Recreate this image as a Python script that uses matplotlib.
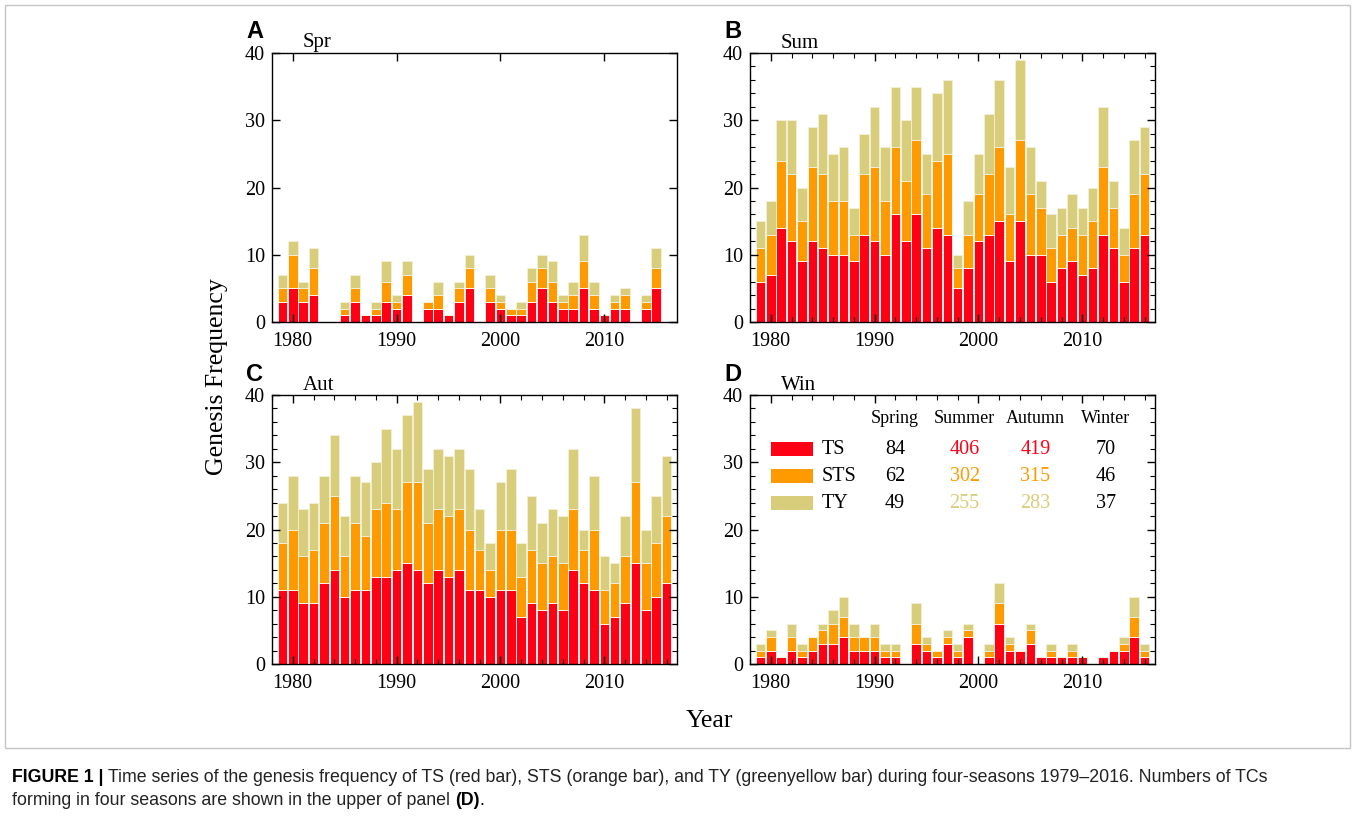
#!/usr/bin/env python3
# -*- coding: utf-8 -*-
"""
Four-season TC genesis frequency (TS / STS / TY), 1979-2016.
"""

import matplotlib
matplotlib.use("Agg")
import matplotlib.pyplot as plt
from matplotlib.patches import Rectangle
from matplotlib.ticker import MultipleLocator

# years on the x axis
years = list(range(1979, 2017))

# spring
ts_spr = [3, 5, 3, 4, 0, 0, 1, 3, 1, 1, 3, 2, 4, 0, 2, 2, 1, 3, 5, 0,
          3, 2, 1, 1, 3, 5, 3, 2, 2, 5, 2, 1, 2, 2, 0, 2, 5, 0]
sts_spr = [2, 5, 2, 4, 0, 0, 1, 2, 0, 1, 3, 1, 3, 0, 1, 2, 0, 2, 3, 0,
           2, 1, 1, 1, 3, 3, 3, 1, 2, 4, 2, 0, 1, 2, 0, 1, 3, 0]
ty_spr = [2, 2, 1, 3, 0, 0, 1, 2, 0, 1, 3, 1, 2, 0, 0, 2, 0, 1, 2, 0,
          2, 1, 0, 1, 2, 2, 3, 1, 2, 4, 2, 0, 1, 1, 0, 1, 3, 0]

# summer
ts_sum = [6, 7, 14, 12, 9, 12, 11, 10, 10, 9, 13, 12, 10, 16, 12, 16, 11, 14, 13, 5,
          8, 12, 13, 15, 9, 15, 10, 10, 6, 8, 9, 7, 8, 13, 11, 6, 11, 13]
sts_sum = [5, 6, 10, 10, 6, 11, 11, 8, 8, 4, 9, 11, 8, 10, 9, 11, 8, 10, 12, 3,
           5, 7, 9, 11, 7, 12, 9, 7, 5, 5, 5, 6, 7, 10, 6, 4, 8, 9]
ty_sum = [4, 5, 6, 8, 5, 6, 9, 7, 8, 4, 6, 9, 8, 9, 9, 8, 6, 10, 11, 2,
          5, 6, 9, 10, 7, 12, 7, 4, 5, 4, 5, 4, 5, 9, 4, 4, 8, 7]

# autumn
ts_aut = [11, 11, 9, 9, 12, 14, 10, 11, 11, 13, 13, 14, 15, 14, 12, 14, 13, 14, 11, 11,
          10, 11, 11, 7, 9, 8, 9, 8, 14, 12, 11, 6, 7, 9, 15, 8, 10, 12]
sts_aut = [7, 9, 7, 8, 9, 11, 6, 10, 8, 10, 11, 9, 12, 13, 9, 9, 9, 9, 9, 6,
           4, 9, 9, 6, 8, 7, 7, 7, 9, 5, 9, 5, 5, 7, 12, 7, 8, 10]
ty_aut = [6, 8, 7, 7, 7, 9, 6, 7, 8, 7, 11, 9, 10, 12, 8, 9, 9, 9, 9, 6,
          4, 7, 9, 5, 8, 6, 7, 7, 9, 3, 8, 5, 3, 6, 11, 5, 7, 9]

# winter
ts_win = [1, 2, 1, 2, 1, 2, 3, 3, 4, 2, 2, 2, 1, 1, 0, 3, 2, 1, 3, 1,
          4, 0, 1, 6, 2, 2, 3, 1, 1, 1, 1, 1, 0, 1, 2, 2, 4, 1]
sts_win = [1, 2, 0, 2, 1, 2, 2, 3, 3, 2, 2, 2, 1, 1, 0, 3, 1, 1, 1, 1,
           1, 0, 1, 3, 1, 0, 2, 0, 1, 0, 1, 0, 0, 0, 0, 1, 3, 1]
ty_win = [1, 1, 0, 2, 1, 0, 1, 2, 3, 2, 0, 2, 1, 1, 0, 3, 1, 0, 1, 1,
          1, 0, 1, 3, 1, 0, 1, 0, 1, 0, 1, 0, 0, 0, 0, 1, 3, 1]

# totals printed in panel D
season_names = ["Spring", "Summer", "Autumn", "Winter"]
ts_totals = [84, 406, 419, 70]
sts_totals = [62, 302, 315, 46]
ty_totals = [49, 255, 283, 37]

# colours
red = "#FF0014"
orange = "#FF9A00"
tan = "#D8CD7A"

W, H = 1356, 822


def fx(px):
    """pixel x -> figure fraction"""
    return px / W


def fy(py):
    """pixel y (from top) -> figure fraction"""
    return 1 - py / H


def stacked_bars(ax, ts, sts, ty):
    """draw one panel of stacked bars"""
    bottom2 = [a + b for a, b in zip(ts, sts)]
    ax.bar(years, ts, width=0.92, color=red, edgecolor="white", linewidth=0.6)
    ax.bar(years, sts, bottom=ts, width=0.92, color=orange,
           edgecolor="white", linewidth=0.6)
    ax.bar(years, ty, bottom=bottom2, width=0.92, color=tan,
           edgecolor="#F4F0D8", linewidth=0.6)


def style_axes(ax, minor=True):
    ax.set_xlim(1978, 2017)
    ax.set_ylim(0, 40)
    ax.xaxis.set_major_locator(MultipleLocator(10))
    ax.yaxis.set_major_locator(MultipleLocator(10))
    if minor:
        ax.xaxis.set_minor_locator(MultipleLocator(2))
        ax.yaxis.set_minor_locator(MultipleLocator(2))
    ax.tick_params(which="both", direction="in", top=True, right=True,
                   labelsize=14.5)
    ax.tick_params(which="major", length=6, width=1)
    ax.tick_params(which="minor", length=3.5, width=0.8)
    ax.tick_params(axis="x", pad=7)
    ax.tick_params(axis="y", pad=5)
    for sp in ax.spines.values():
        sp.set_linewidth(1.0)


def main():
    plt.rcParams["font.family"] = ["Liberation Serif", "DejaVu Serif"]

    fig = plt.figure(figsize=(W / 100, H / 100), dpi=100)

    # panel boxes in pixels: left, top
    ax_w, ax_h = 405, 269
    boxes = {"A": (272, 53), "B": (750, 53), "C": (272, 395), "D": (750, 395)}
    data = {
        "A": (ts_spr, sts_spr, ty_spr, "Spr"),
        "B": (ts_sum, sts_sum, ty_sum, "Sum"),
        "C": (ts_aut, sts_aut, ty_aut, "Aut"),
        "D": (ts_win, sts_win, ty_win, "Win"),
    }

    axes = {}
    for key, (left, top) in boxes.items():
        ax = fig.add_axes([fx(left), fy(top + ax_h), ax_w / W, ax_h / H])
        ts, sts, ty, title = data[key]
        stacked_bars(ax, ts, sts, ty)
        style_axes(ax, minor=(key != "A"))
        fig.text(fx(left - 17), fy(top - 21), key, fontsize=17,
                 fontweight="bold", family=["Liberation Sans", "DejaVu Sans"],
                 ha="center", va="center")
        fig.text(fx(left + 31), fy(top - 10), title, fontsize=15,
                 ha="left", va="center")
        axes[key] = ax

    # season totals table in panel D
    axd = axes["D"]
    col_x = [0.358, 0.530, 0.705, 0.879]
    for name, cx in zip(season_names, col_x):
        axd.text(cx, 0.912, name, transform=axd.transAxes, fontsize=13,
                 ha="center", va="center")

    rows = [("TS", red, ts_totals, 0.798),
            ("STS", orange, sts_totals, 0.698),
            ("TY", tan, ty_totals, 0.598)]
    for label, col, vals, ry in rows:
        axd.add_patch(Rectangle((0.052, ry - 0.026), 0.104, 0.052,
                                transform=axd.transAxes, facecolor=col,
                                edgecolor="none"))
        axd.text(0.178, ry, label, transform=axd.transAxes, fontsize=14.5,
                 ha="left", va="center")
        for i, (v, cx) in enumerate(zip(vals, col_x)):
            tc = col if i in (1, 2) else "black"
            axd.text(cx, ry, str(v), transform=axd.transAxes, fontsize=14.5,
                     ha="center", va="center", color=tc)

    # shared axis labels
    fig.text(fx(217), fy(377), "Genesis Frequency", rotation=90,
             fontsize=18.5, ha="center", va="center")
    fig.text(fx(709), fy(721), "Year", fontsize=18.5, ha="center",
             va="center")

    # light frame around the figure area
    fig.patches.append(Rectangle((fx(5), fy(748)), fx(1350) - fx(5),
                                 fy(5) - fy(748), transform=fig.transFigure,
                                 facecolor="none", edgecolor="#C4C4C4",
                                 linewidth=1.0))

    # caption
    cap_font = ["Liberation Sans Narrow", "Liberation Sans", "DejaVu Sans"]
    cap_size = 12.8
    renderer = fig.canvas.get_renderer()
    t1 = fig.text(fx(12), fy(777), "FIGURE 1 | ", fontsize=cap_size,
                  fontweight="bold", family=cap_font, va="center")
    x1 = t1.get_window_extent(renderer).x1 / W
    fig.text(x1, fy(777),
             "Time series of the genesis frequency of TS (red bar), STS "
             "(orange bar), and TY (greenyellow bar) during four-seasons "
             "1979\u20132016. Numbers of TCs",
             fontsize=cap_size, family=cap_font, va="center", color="#222222")
    t3 = fig.text(fx(12), fy(800),
                  "forming in four seasons are shown in the upper of panel ",
                  fontsize=cap_size, family=cap_font, va="center",
                  color="#222222")
    x3 = t3.get_window_extent(renderer).x1 / W
    t4 = fig.text(x3, fy(800), "(D)", fontsize=cap_size, fontweight="bold",
                  family=cap_font, va="center")
    x4 = t4.get_window_extent(renderer).x1 / W
    fig.text(x4, fy(800), ".", fontsize=cap_size, family=cap_font,
             va="center")

    fig.savefig("out.png", dpi=100)


if __name__ == "__main__":
    main()
